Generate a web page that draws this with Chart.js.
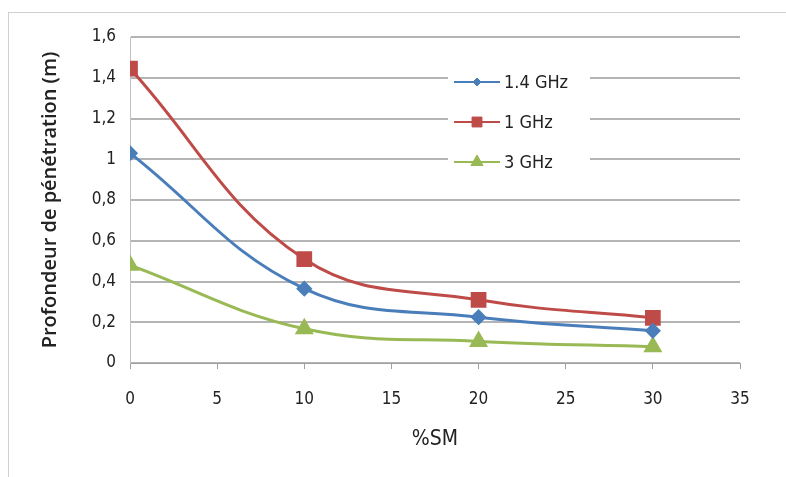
<!DOCTYPE html>
<html>
<head>
<meta charset="utf-8">
<script src="https://cdn.jsdelivr.net/npm/chart.js@4/dist/chart.umd.min.js"></script>
<style>
  body { margin: 0; background: #fff; overflow: hidden; }
  #frame { position: absolute; left: 8px; top: 12px; width: 800px; height: 500px; border: 1px solid #d0d0d0; }
  #wrap { position: absolute; left: 0; top: 0; width: 786px; height: 477px; }
</style>
</head>
<body>
<div id="frame"></div>
<div id="wrap"><canvas id="chart" width="786" height="477"></canvas></div>
<script>
// %SM values
var sm = [0, 10, 20, 30];
// penetration depth (m) per frequency
var depth14 = [1.03, 0.365, 0.225, 0.158];
var depth1 = [1.445, 0.51, 0.31, 0.222];
var depth3 = [0.48, 0.168, 0.106, 0.08];
var labels = ['1.4 GHz', '1 GHz', '3 GHz'];

var font = "'DejaVu Sans Condensed', 'Liberation Sans', Arial, sans-serif";

function pts(ys) {
  return sm.map(function (x, i) { return { x: x, y: ys[i] }; });
}

// legend drawn inside the plot area, like the original
var innerLegend = {
  id: 'innerLegend',
  afterDatasetsDraw: function (chart) {
    var ctx = chart.ctx;
    var x0 = 448, y0 = 82, step = 40;
    ctx.save();
    ctx.fillStyle = '#fff';
    ctx.fillRect(x0, y0 - 18, 142, step * 3);
    chart.data.datasets.forEach(function (ds, i) {
      var y = y0 + i * step;
      ctx.strokeStyle = ds.borderColor;
      ctx.lineWidth = 2;
      ctx.beginPath();
      ctx.moveTo(x0 + 6, y);
      ctx.lineTo(x0 + 52, y);
      ctx.stroke();
      ctx.fillStyle = ds.backgroundColor;
      ctx.lineWidth = 1;
      Chart.helpers.drawPoint(ctx, {
        pointStyle: ds.pointStyle,
        radius: ds.pointStyle === 'rectRot' ? 4 : 7,
        rotation: 0,
        borderWidth: 1
      }, x0 + 29, y);
      ctx.fillStyle = '#222';
      ctx.font = '18px ' + font;
      ctx.textBaseline = 'middle';
      ctx.fillText(ds.label, x0 + 56, y + 1);
    });
    ctx.restore();
  }
};

new Chart(document.getElementById('chart'), {
  type: 'line',
  data: {
    datasets: [{
      label: labels[0],
      data: pts(depth14),
      borderColor: '#4a7ebb',
      backgroundColor: '#4a7ebb',
      pointStyle: 'rectRot',
      pointRadius: 6,
      borderWidth: 3,
      tension: 0.4
    }, {
      label: labels[1],
      data: pts(depth1),
      borderColor: '#be4b48',
      backgroundColor: '#be4b48',
      pointStyle: 'rect',
      pointRadius: 9,
      borderWidth: 3,
      tension: 0.4
    }, {
      label: labels[2],
      data: pts(depth3),
      borderColor: '#98b954',
      backgroundColor: '#98b954',
      pointStyle: 'triangle',
      pointRadius: 8,
      borderWidth: 3,
      tension: 0.4
    }]
  },
  options: {
    responsive: false,
    animation: false,
    layout: { padding: { top: 37, right: 46, left: 34, bottom: 21 } },
    plugins: {
      legend: { display: false },
      tooltip: { enabled: false }
    },
    scales: {
      x: {
        type: 'linear',
        min: 0,
        max: 35,
        ticks: { stepSize: 5, color: '#222', font: { family: font, size: 17 }, padding: 20 },
        grid: { drawOnChartArea: false, tickLength: 6, color: '#a0a0a0' },
        border: { color: '#a0a0a0', width: 1 },
        title: { display: true, text: '%SM', color: '#222', font: { family: font, size: 21 }, padding: { top: 14 } },
        afterFit: function (s) { s.height = 93; }
      },
      y: {
        min: 0,
        max: 1.6,
        ticks: {
          stepSize: 0.2,
          color: '#222',
          font: { family: font, size: 17 },
          padding: 14,
          callback: function (v) { return String(Math.round(v * 10) / 10).replace('.', ','); }
        },
        grid: { color: '#b4b4b4', lineWidth: 2, drawTicks: false },
        border: { display: true, color: '#c0c0c0', width: 1 },
        title: { display: true, text: 'Profondeur de pénétration (m)', color: '#222', font: { family: "'Open Sans', sans-serif", size: 20, weight: '600' }, padding: { bottom: 10 } },
        afterFit: function (s) { s.width = 96; }
      }
    }
  },
  plugins: [innerLegend]
});
</script>
</body>
</html>
